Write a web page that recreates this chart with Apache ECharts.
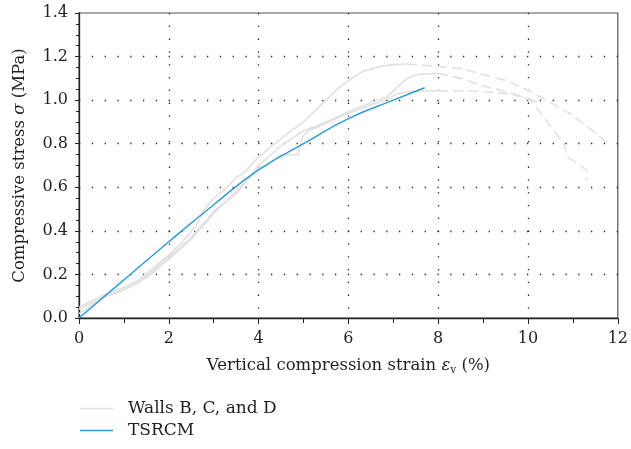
<!DOCTYPE html>
<html>
<head>
<meta charset="utf-8">
<script src="https://cdn.jsdelivr.net/npm/echarts@6/dist/echarts.min.js"></script>
<style>html,body{margin:0;padding:0;background:#fff}#c{width:631px;height:449px}</style>
</head>
<body>
<div id="c"></div>
<script>
// ---- data (strain %, stress MPa) ----
var wallB_solid = [[0,0.05],[0.3,0.08],[0.6,0.11],[1,0.14],[1.3,0.17],[1.6,0.22],[2,0.29],[2.3,0.35],[2.6,0.42],[2.8,0.5],[3,0.55],[3.3,0.6],[3.5,0.645],[3.7,0.67],[3.9,0.72],[4,0.74],[4.3,0.79],[4.6,0.84],[5,0.9],[5.3,0.96],[5.5,1.0],[5.8,1.06],[6,1.09],[6.3,1.13],[6.7,1.155],[7,1.163],[7.3,1.166]];
var wallB_dashed = [[7.3,1.166],[8,1.155],[8.5,1.145],[9,1.118],[9.5,1.09],[10,1.045],[10.5,0.99],[11,0.93],[11.5,0.85],[11.8,0.795]];
var wallC_solid = [[0,0.04],[0.3,0.07],[0.6,0.1],[1,0.13],[1.3,0.16],[1.6,0.21],[2,0.28],[2.5,0.37],[2.8,0.44],[3,0.49],[3.5,0.57],[4,0.7],[4.5,0.79],[5,0.86],[5.33,0.885],[5.62,0.91],[6,0.947],[6.36,0.977],[6.65,1.0],[6.87,1.016],[7.09,1.06],[7.31,1.1],[7.54,1.118],[8,1.123]];
var wallC_dashed = [[8,1.123],[8.5,1.1],[9,1.065],[9.5,1.04],[9.9,1.015],[10.1,0.99],[10.5,0.88],[10.8,0.8],[10.9,0.735],[11.1,0.71],[11.3,0.68],[11.3,0.63]];
var wallD_solid = [[0,0.02],[0.3,0.06],[0.6,0.1],[1,0.13],[1.3,0.16],[1.6,0.2],[2,0.27],[2.5,0.36],[3,0.48],[3.5,0.58],[4,0.69],[4.2,0.7],[4.48,0.748],[4.88,0.75],[4.97,0.83],[5.1,0.86],[5.33,0.878],[5.62,0.905],[6,0.94],[6.4,0.97],[6.8,1.0],[7.1,1.03],[7.4,1.04],[8,1.043]];
var wallD_dashed = [[8,1.043],[8.5,1.043],[9,1.04],[9.5,1.03],[10,1.01],[10.3,0.98]];
var tsrcm = [[0,0],[1,0.175],[2,0.35],[3,0.52],[4,0.68],[5,0.80],[6,0.915],[7,1.0],[7.7,1.057]];
var legendNames = ['Walls B, C, and D', 'TSRCM'];

var FONT = '"DejaVu Serif", "Liberation Serif", serif';
var TXT = '#231f20';
var GRAY = '#e0e0e0';
var BLUE = '#2b9ad6';

function grayLine(data, dashed){
  return {name: legendNames[0], type:'line', data:data, showSymbol:false, symbol:'none', z:2,
    lineStyle:{color:GRAY, width:1.6, type: dashed ? [10,5] : 'solid'}, itemStyle:{color:GRAY}};
}

var chart = echarts.init(document.getElementById('c'), null, {renderer:'canvas'});
chart.setOption({
  animation:false,
  backgroundColor:'#fff',
  grid:{left:79, right:9, top:13, bottom:131, show:true, borderColor:'#555', borderWidth:1.2},
  legend:{orient:'vertical', left:80, top:400, padding:0, itemGap:5, itemWidth:33, itemHeight:1.5, icon:'rect',
    data:legendNames, textStyle:{fontFamily:FONT, fontSize:17, color:TXT, padding:[0,0,0,10]}},
  xAxis:{type:'value', min:0, max:12, interval:2,
    name:'Vertical compression strain {i|ε}{sub|v} (%)', nameLocation:'middle', nameGap:38,
    nameTextStyle:{fontFamily:FONT, fontSize:16.5, color:TXT,
      rich:{i:{fontFamily:FONT, fontSize:16.5, fontStyle:'italic', color:TXT},
            sub:{fontFamily:FONT, fontSize:10.5, color:TXT, padding:[9,0,0,0]}}},
    axisLine:{lineStyle:{color:'#222', width:1.3}},
    axisTick:{length:6, lineStyle:{color:'#222'}},
    minorTick:{show:true, splitNumber:2, length:5, lineStyle:{color:'#222'}},
    axisLabel:{fontFamily:FONT, fontSize:16, color:TXT, margin:13},
    splitLine:{show:true, showMinLine:false, showMaxLine:false, lineStyle:{color:'#222', width:1.3, type:[1.3,11.5]}}},
  yAxis:{type:'value', min:0, max:1.4, interval:0.2,
    name:'Compressive stress {i|σ} (MPa)', nameLocation:'middle', nameGap:51,
    nameTextStyle:{fontFamily:FONT, fontSize:16.5, color:TXT,
      rich:{i:{fontFamily:FONT, fontSize:16.5, fontStyle:'italic', color:TXT}}},
    axisLine:{show:true, lineStyle:{color:'#222', width:1.3}},
    axisTick:{show:true, length:4, lineStyle:{color:'#222'}},
    minorTick:{show:true, splitNumber:4, length:3, lineStyle:{color:'#222'}},
    axisLabel:{fontFamily:FONT, fontSize:16, color:TXT, margin:11, formatter:function(v){return v.toFixed(1);}},
    splitLine:{show:true, showMinLine:false, showMaxLine:false, lineStyle:{color:'#222', width:1.3, type:[1.3,11.5]}}},
  series:[
    grayLine(wallB_solid,false), grayLine(wallB_dashed,true),
    grayLine(wallC_solid,false), grayLine(wallC_dashed,true),
    grayLine(wallD_solid,false), grayLine(wallD_dashed,true),
    {name:legendNames[1], type:'line', data:tsrcm, smooth:true, showSymbol:false, symbol:'none', z:3,
     lineStyle:{color:BLUE, width:1.4}, itemStyle:{color:BLUE}}
  ]
});
</script>
</body>
</html>
